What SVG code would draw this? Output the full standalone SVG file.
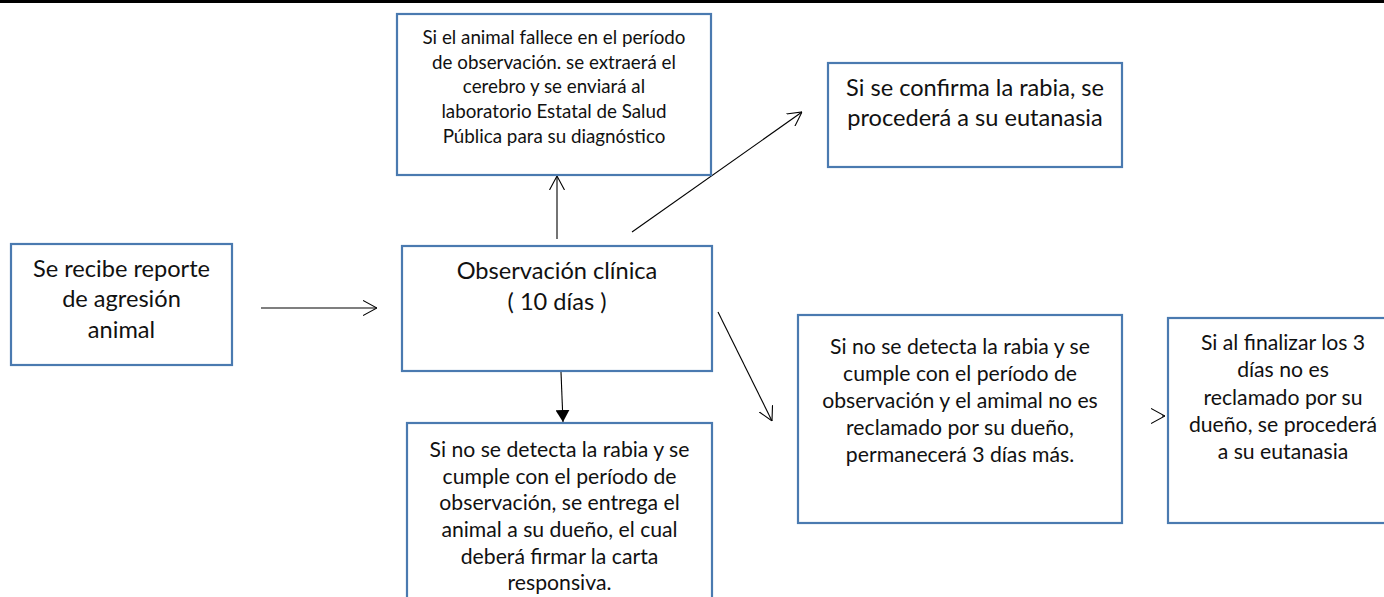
<svg xmlns="http://www.w3.org/2000/svg" width="1384" height="597" viewBox="0 0 1384 597">
<style>
.box{fill:#ffffff;stroke:#4A7AB0;stroke-width:2.2}
.t{font-family:Lato,"Liberation Sans",sans-serif;fill:#111;text-anchor:middle}
.s20{font-size:18.8px}
.s22{font-size:21.2px}
.s24{font-size:23.6px}
.s25{font-size:23.6px}
.c{stroke:#000;stroke-width:1.1;fill:none}
</style>
<defs>
<marker id="open" viewBox="0 0 14 16" refX="14" refY="8" markerWidth="14" markerHeight="16" markerUnits="userSpaceOnUse" orient="auto">
<path d="M0,0.5 L14,8 L0,15.5" fill="none" stroke="#000" stroke-width="1.1"/>
</marker>
<marker id="solid" viewBox="0 0 12 14" refX="12" refY="7" markerWidth="12" markerHeight="14" markerUnits="userSpaceOnUse" orient="auto">
<path d="M0,0 L12,7 L0,14 Z" fill="#000"/>
</marker>
</defs>
<rect x="0" y="0" width="1384" height="3" fill="#000"/>
<g id="connectors">
<line class="c" x1="261" y1="308" x2="377" y2="308" marker-end="url(#open)"/>
<line class="c" x1="557" y1="239" x2="557" y2="176" marker-end="url(#open)"/>
<line class="c" x1="632" y1="232" x2="802" y2="112" marker-end="url(#open)"/>
<line class="c" x1="561" y1="372" x2="563" y2="422" marker-end="url(#solid)"/>
<line class="c" x1="718" y1="312" x2="772" y2="421" marker-end="url(#open)"/>
<line class="c" x1="1162" y1="416" x2="1165" y2="416" marker-end="url(#open)"/>
</g>
<g id="n-reporte">
<rect class="box" x="11" y="244" width="221" height="121"/>
<text class="t s24"><tspan x="121.5" y="277">Se recibe reporte</tspan><tspan x="121.5" y="307">de agresión</tspan><tspan x="121.5" y="338">animal</tspan></text>
</g>
<g id="n-fallece">
<rect class="box" x="397" y="14" width="314" height="161"/>
<text class="t s20"><tspan x="554" y="44">Si el animal fallece en el período</tspan><tspan x="554" y="69">de observación. se extraerá el</tspan><tspan x="554" y="93">cerebro y se enviará al</tspan><tspan x="554" y="118">laboratorio Estatal de Salud</tspan><tspan x="554" y="143">Pública para su diagnóstico</tspan></text>
</g>
<g id="n-observacion">
<rect class="box" x="402" y="246" width="310" height="125"/>
<text class="t s25"><tspan x="557" y="279">Observación clínica</tspan><tspan x="557" y="310">( 10 días )</tspan></text>
</g>
<g id="n-confirma">
<rect class="box" x="828" y="63" width="294" height="104"/>
<text class="t s25"><tspan x="975" y="96">Si se confirma la rabia, se</tspan><tspan x="975" y="126">procederá a su eutanasia</tspan></text>
</g>
<g id="n-entrega">
<rect class="box" x="407" y="423" width="305" height="200"/>
<text class="t s22"><tspan x="559.5" y="457">Si no se detecta la rabia y se</tspan><tspan x="559.5" y="484">cumple con el período de</tspan><tspan x="559.5" y="510">observación, se entrega el</tspan><tspan x="559.5" y="537">animal a su dueño, el cual</tspan><tspan x="559.5" y="564">deberá firmar la carta</tspan><tspan x="559.5" y="590">responsiva.</tspan></text>
</g>
<g id="n-permanece">
<rect class="box" x="798" y="315" width="324" height="208"/>
<text class="t s22"><tspan x="960" y="354">Si no se detecta la rabia y se</tspan><tspan x="960" y="381">cumple con el período de</tspan><tspan x="960" y="408">observación y el amimal no es</tspan><tspan x="960" y="435">reclamado por su dueño,</tspan><tspan x="960" y="462">permanecerá 3 días más.</tspan></text>
</g>
<g id="n-eutanasia">
<rect class="box" x="1168" y="318" width="232" height="205"/>
<text class="t s22"><tspan x="1283" y="350">Si al finalizar los 3</tspan><tspan x="1283" y="377">días no es</tspan><tspan x="1283" y="405">reclamado por su</tspan><tspan x="1283" y="432">dueño, se procederá</tspan><tspan x="1283" y="459">a su eutanasia</tspan></text>
</g>
</svg>
